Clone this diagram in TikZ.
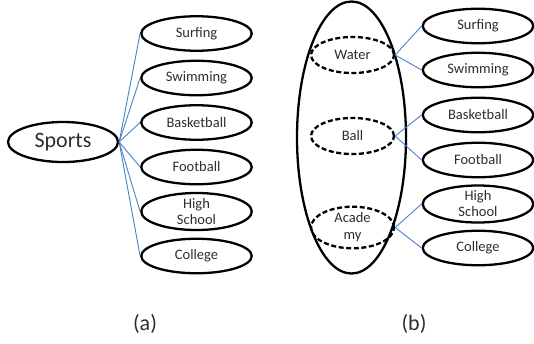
\documentclass[tikz,border=0pt]{standalone}
\usepackage{fontspec}
\setmainfont{Carlito}
\usetikzlibrary{shapes.geometric}
\definecolor{linkblue}{RGB}{70,130,200}
\definecolor{txt}{RGB}{45,45,45}
\tikzset{
  leaf/.style={ellipse, draw=black, line width=2.3pt, minimum width=110.5pt, minimum height=34.5pt, inner sep=0pt, font=\fontsize{14.5}{16}\selectfont, text=txt, align=center},
  grp/.style={ellipse, draw=black, line width=2.3pt, dash pattern=on 5pt off 2.6pt, minimum width=83pt, minimum height=36pt, inner sep=0pt, font=\fontsize{14.5}{17}\selectfont, text=txt, align=center},
  link/.style={draw=linkblue, line width=0.9pt},
  captext/.style={font=\fontsize{22}{24}\selectfont, text=txt}
}
\begin{document}
\begin{tikzpicture}[x=1pt,y=-1pt]
\useasboundingbox (0,0) rectangle (534,343);
% panel (a)
\node[ellipse, draw=black, line width=2.3pt, minimum width=110pt, minimum height=40pt, inner sep=0pt, font=\fontsize{22}{24}\selectfont, text=txt] (sports) at (63,142) {Sports};
\node[leaf] (a1) at (196.5,33.5) {Surfing};
\node[leaf] (a2) at (196.5,78) {Swimming};
\node[leaf] (a3) at (196.5,122.5) {Basketball};
\node[leaf] (a4) at (196.5,167) {Football};
\node[leaf] (a5) at (196.5,211.5) {High\\School};
\node[leaf] (a6) at (196.5,256) {College};
\foreach \n in {a1,a2,a3,a4,a5,a6} \draw[link] (sports.east) -- (\n.west);
% panel (b)
\node[ellipse, draw=black, line width=2.3pt, minimum width=109pt, minimum height=272pt, inner sep=0pt] (big) at (351.5,137.5) {};
\node[grp] (water) at (352.5,55) {Water};
\node[grp] (ball) at (352.5,136) {Ball};
\node[grp] (acad) at (352.5,227.5) {Acade\\my};
\node[leaf] (b1) at (478,26) {Surfing};
\node[leaf] (b2) at (478,70) {Swimming};
\node[leaf] (b3) at (478,115) {Basketball};
\node[leaf] (b4) at (478,160) {Football};
\node[leaf] (b5) at (478,204) {High\\School};
\node[leaf] (b6) at (478,248) {College};
\draw[link] (water.east) -- (b1.west);
\draw[link] (water.east) -- (b2.west);
\draw[link] (ball.east) -- (b3.west);
\draw[link] (ball.east) -- (b4.west);
\draw[link] (acad.east) -- (b5.west);
\draw[link] (acad.east) -- (b6.west);
% captions
\node[captext] (capa) at (145,324) {(a)};
\node[captext] (capb) at (414,324) {(b)};
\end{tikzpicture}
\end{document}
